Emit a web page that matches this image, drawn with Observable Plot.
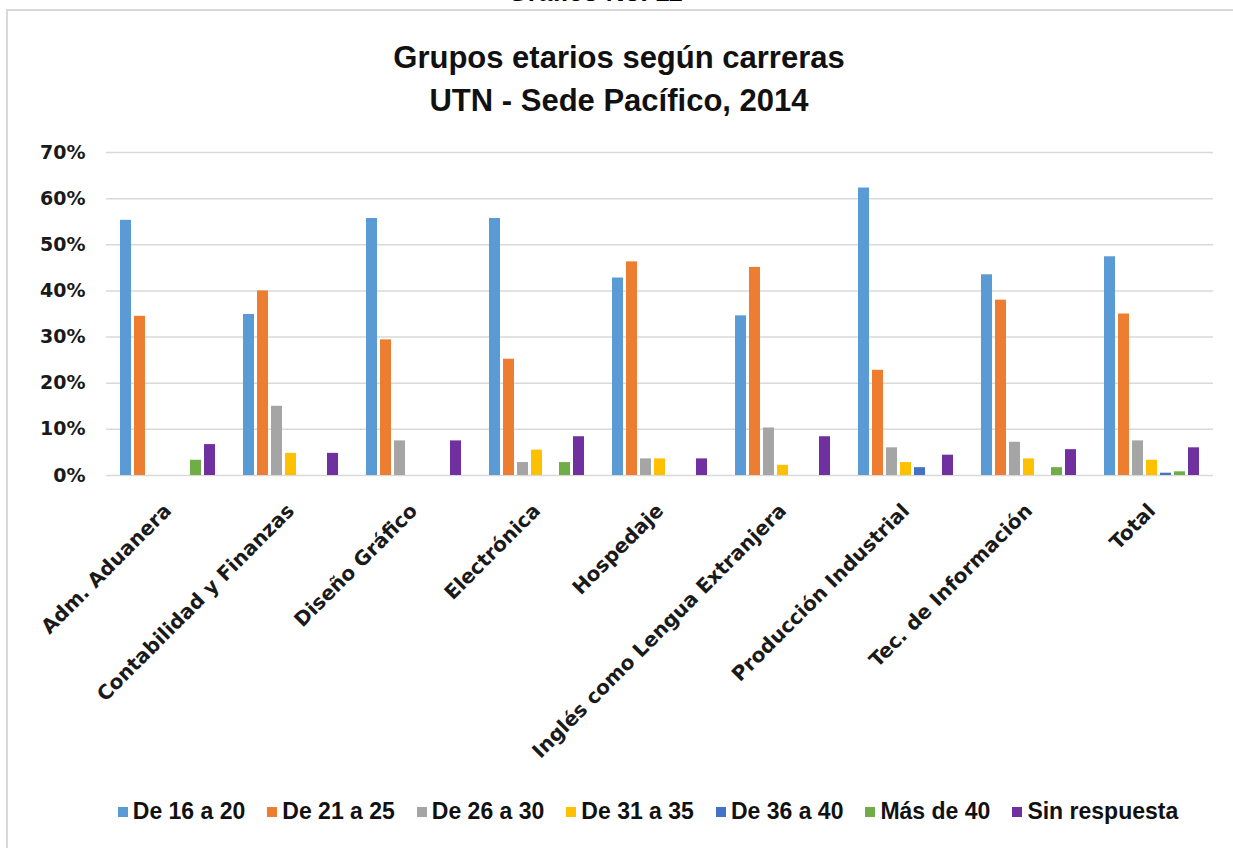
<!DOCTYPE html>
<html>
<head>
<meta charset="utf-8">
<script src="https://cdn.jsdelivr.net/npm/d3@7"></script>
<script src="https://cdn.jsdelivr.net/npm/@observablehq/plot@0.6"></script>
<style>
  html, body { margin: 0; padding: 0; background: #fff; overflow: hidden; }
  body { width: 1233px; height: 848px; position: relative; }
  #sup { position: absolute; top: -21px; left: 0; width: 1190px; text-align: center;
         font: bold 26px "Liberation Sans", Arial, sans-serif; line-height: 1; color: #000; }
  #frame { position: absolute; left: 6px; top: 9px; width: 1240px; height: 900px;
           border: 2px solid #d9d9d9; box-sizing: border-box; }
  #title { position: absolute; top: 36px; left: 0; width: 1238px; text-align: center;
           font: bold 31px "Liberation Sans", Arial, sans-serif; line-height: 43px; color: #111; }
  #chart { position: absolute; top: 130px; left: 0; }
  #legend { position: absolute; top: 798px; left: 0; width: 1296px; display: flex;
            justify-content: center; align-items: center; gap: 22px;
            font: bold 23px "Liberation Sans", Arial, sans-serif; color: #111; }
  .item { display: flex; align-items: center; gap: 5px; }
  .sw { width: 10px; height: 10px; display: inline-block; }
</style>
</head>
<body>
<div id="sup">Gráfico No. 11</div>
<div id="frame"></div>
<div id="title">Grupos etarios según carreras<br>UTN - Sede Pacífico, 2014</div>
<div id="chart"></div>
<div id="legend"></div>
<script>
const categories = ["Adm. Aduanera", "Contabilidad y Finanzas", "Diseño Gráfico", "Electrónica", "Hospedaje",
  "Inglés como Lengua Extranjera", "Producción Industrial", "Tec. de Información", "Total"];
const series = ["De 16 a 20", "De 21 a 25", "De 26 a 30", "De 31 a 35", "De 36 a 40", "Más de 40", "Sin respuesta"];
const colors = ["#5B9BD5", "#ED7D31", "#A5A5A5", "#FFC000", "#4472C4", "#70AD47", "#7030A0"];

// percentages per series, one value per career
const de16a20      = [55.3, 34.9, 55.7, 55.7, 42.8, 34.6, 62.3, 43.5, 47.4];
const de21a25      = [34.5, 40.0, 29.4, 25.2, 46.3, 45.1, 22.8, 38.0, 35.0];
const de26a30      = [0,    15.0,  7.5,  2.8,  3.6, 10.3,  6.0,  7.2,  7.5];
const de31a35      = [0,     4.8,  0,    5.5,  3.6,  2.2,  2.8,  3.6,  3.3];
const de36a40      = [0,     0,    0,    0,    0,    0,    1.7,  0,    0.5];
const masDe40      = [3.3,   0,    0,    2.8,  0,    0,    0,    1.7,  0.8];
const sinRespuesta = [6.7,   4.8,  7.5,  8.4,  3.6,  8.4,  4.4,  5.6,  6.0];

const yTicks = [0, 0.1, 0.2, 0.3, 0.4, 0.5, 0.6, 0.7];
const yTickLabels = ["0%", "10%", "20%", "30%", "40%", "50%", "60%", "70%"];

const seriesValues = [de16a20, de21a25, de26a30, de31a35, de36a40, masDe40, sinRespuesta];
const data = [];
seriesValues.forEach((arr, si) => arr.forEach((v, ci) =>
  data.push({carrera: categories[ci], grupo: series[si], valor: v / 100})));

const chart = Plot.plot({
  width: 1233,
  height: 660,
  marginTop: 22,
  marginBottom: 315,
  marginLeft: 103,
  marginRight: 18,
  style: {fontFamily: "'DejaVu Sans', sans-serif", fontWeight: "bold", color: "#1a1a1a", background: "transparent", overflow: "visible"},
  fx: {domain: categories, padding: 0, label: null},
  x: {domain: series, paddingInner: 0.24, paddingOuter: 0.89, axis: null},
  y: {domain: [0, 0.7], axis: null},
  color: {domain: series, range: colors},
  marks: [
    Plot.gridY(yTicks, {stroke: "#d9d9d9", strokeOpacity: 1, strokeWidth: 1.5}),
    Plot.barY(data, {fx: "carrera", x: "grupo", y: "valor", fill: "grupo"}),
    Plot.axisY(yTicks, {tickFormat: (d, i) => yTickLabels[i], tickSize: 0, tickPadding: 21, fontSize: 19, label: null}),
    Plot.axisFx({anchor: "bottom", tickRotate: -45, tickSize: 0, tickPadding: 32, label: null, fontSize: 20})
  ]
});
document.getElementById("chart").appendChild(chart);

const legend = document.getElementById("legend");
series.forEach((s, i) => {
  const item = document.createElement("div");
  item.className = "item";
  const sw = document.createElement("span");
  sw.className = "sw";
  sw.style.background = colors[i];
  const t = document.createElement("span");
  t.textContent = s;
  item.appendChild(sw);
  item.appendChild(t);
  legend.appendChild(item);
});
</script>
</body>
</html>
